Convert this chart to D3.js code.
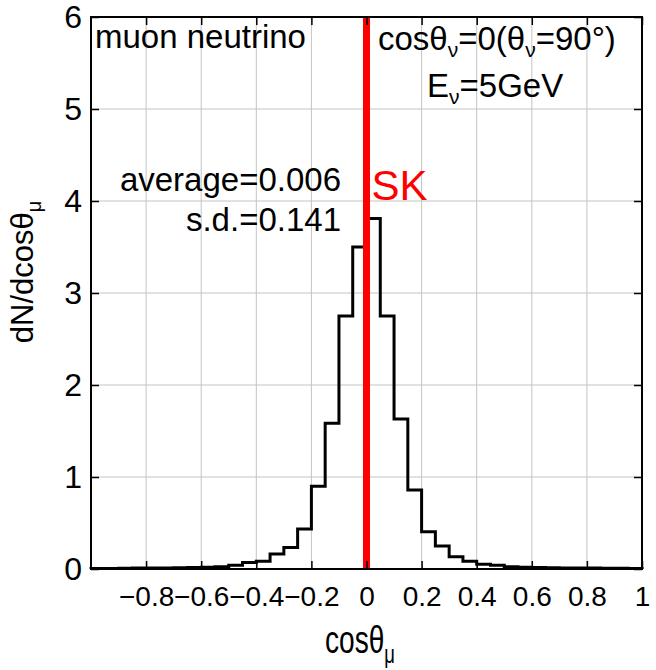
<!DOCTYPE html>
<html>
<head>
<meta charset="utf-8">
<script src="https://cdn.jsdelivr.net/npm/d3@7"></script>
<style>
  html, body { margin: 0; padding: 0; background: #fff; }
  svg { display: block; font-family: "Liberation Sans", Arial, Helvetica, sans-serif; }
</style>
</head>
<body>
<svg id="chart" width="656" height="670"></svg>
<script>
// ---- data ----
const binLo = [-1.00, -0.95, -0.90, -0.85, -0.80, -0.75, -0.70, -0.65, -0.60, -0.55,
               -0.50, -0.45, -0.40, -0.35, -0.30, -0.25, -0.20, -0.15, -0.10, -0.05,
                0.00,  0.05,  0.10,  0.15,  0.20,  0.25,  0.30,  0.35,  0.40,  0.45,
                0.50,  0.55,  0.60,  0.65,  0.70,  0.75,  0.80,  0.85,  0.90,  0.95];
const binWidth = 0.05;
const counts = [0.005, 0.006, 0.008, 0.010, 0.010, 0.012, 0.014, 0.016, 0.020, 0.025,
                0.040, 0.070, 0.085, 0.163, 0.235, 0.435, 0.900, 1.585, 2.750, 3.500,
                3.810, 2.750, 1.630, 0.860, 0.405, 0.250, 0.134, 0.085, 0.052, 0.040,
                0.025, 0.020, 0.017, 0.014, 0.012, 0.010, 0.010, 0.008, 0.007, 0.005];
const xTicks = [-0.8, -0.6, -0.4, -0.2, 0, 0.2, 0.4, 0.6, 0.8, 1];
const xTickLabels = ["\u22120.8", "\u22120.6", "\u22120.4", "\u22120.2", "0", "0.2", "0.4", "0.6", "0.8", "1"];
const yTicks = [0, 1, 2, 3, 4, 5, 6];
const yTickLabels = ["0", "1", "2", "3", "4", "5", "6"];
const markerX = 0;          // SK vertical line position
const markerLabel = "SK";
const infoLeft = "muon neutrino";
const statAverage = "average=0.006";
const statSd = "s.d.=0.141";

// ---- layout ----
const svg = d3.select("#chart");
const L = 91, R = 642, T = 17, B = 569;
const x = d3.scaleLinear().domain([-1, 1]).range([L, R]);
const y = d3.scaleLinear().domain([0, 6]).range([B, T]);

// grid
const grid = svg.append("g").attr("stroke", "#c4c4c4").attr("stroke-width", 1);
grid.selectAll(".gx").data(xTicks.filter(d => d > -1 && d < 1)).join("line")
  .attr("x1", d => x(d)).attr("x2", d => x(d)).attr("y1", T).attr("y2", B);
grid.selectAll(".gy").data(yTicks.filter(d => d > 0 && d < 6)).join("line")
  .attr("y1", d => y(d)).attr("y2", d => y(d)).attr("x1", L).attr("x2", R);

// histogram step line
const pts = [[x(binLo[0]), y(0)]];
binLo.forEach((lo, i) => {
  pts.push([x(lo), y(counts[i])]);
  pts.push([x(lo + binWidth), y(counts[i])]);
});
pts.push([x(binLo[binLo.length - 1] + binWidth), y(0)]);
svg.append("path")
  .attr("d", d3.line()(pts))
  .attr("fill", "none").attr("stroke", "#000").attr("stroke-width", 3)
  .attr("stroke-linejoin", "miter");

// red marker line
svg.append("line")
  .attr("x1", x(markerX)).attr("x2", x(markerX)).attr("y1", T).attr("y2", B)
  .attr("stroke", "#ff0000").attr("stroke-width", 7);

// axes
const fmtX = d => xTickLabels[xTicks.indexOf(d)];
const fmtY = d => yTickLabels[yTicks.indexOf(d)];
const gxB = svg.append("g").attr("transform", `translate(0,${B})`)
  .call(d3.axisBottom(x).tickValues(xTicks).tickFormat(fmtX).tickSize(-8).tickPadding(17));
const gxT = svg.append("g").attr("transform", `translate(0,${T})`)
  .call(d3.axisTop(x).tickValues(xTicks).tickFormat("").tickSize(-8));
const gyL = svg.append("g").attr("transform", `translate(${L},0)`)
  .call(d3.axisLeft(y).tickValues(yTicks).tickFormat(fmtY).tickSize(-8).tickPadding(9));
const gyR = svg.append("g").attr("transform", `translate(${R},0)`)
  .call(d3.axisRight(y).tickValues(yTicks).tickFormat("").tickSize(-8));
[gxB, gxT, gyL, gyR].forEach(g => {
  g.select(".domain").remove();
  g.selectAll(".tick line").attr("stroke", "#000").attr("stroke-width", 1.5);
});
gxB.selectAll(".tick text").attr("font-size", 28).attr("fill", "#000")
  .attr("font-family", "Liberation Sans, Arial, sans-serif");
gyL.selectAll(".tick text").attr("font-size", 32).attr("fill", "#000")
  .attr("font-family", "Liberation Sans, Arial, sans-serif");

// frame
svg.append("rect").attr("x", L).attr("y", T).attr("width", R - L).attr("height", B - T)
  .attr("fill", "none").attr("stroke", "#000").attr("stroke-width", 2);

// annotations
const ann = svg.append("g").attr("font-size", 33).attr("fill", "#000");
ann.append("text").attr("x", 95).attr("y", 48).text(infoLeft);
ann.append("text").attr("x", 341).attr("y", 191).attr("text-anchor", "end").text(statAverage);
ann.append("text").attr("x", 341).attr("y", 231).attr("text-anchor", "end").text(statSd);

const t1 = ann.append("text").attr("x", 378).attr("y", 50);
t1.append("tspan").text("cos\u03b8");
t1.append("tspan").attr("font-size", 21).attr("dy", 7).text("\u03bd");
t1.append("tspan").attr("dy", -7).text("=0(\u03b8");
t1.append("tspan").attr("font-size", 21).attr("dy", 7).text("\u03bd");
t1.append("tspan").attr("dy", -7).text("=90\u00b0)");

const t2 = ann.append("text").attr("x", 427).attr("y", 97);
t2.append("tspan").text("E");
t2.append("tspan").attr("font-size", 21).attr("dy", 7).text("\u03bd");
t2.append("tspan").attr("dy", -7).text("=5GeV");

svg.append("text").attr("x", x(markerX) + 5).attr("y", 200)
  .attr("font-size", 42).attr("fill", "#ff0000").text(markerLabel);

// axis titles
const xt = svg.append("text")
  .attr("transform", "translate(325,653) scale(0.74,1)")
  .attr("font-size", 38).attr("fill", "#000");
xt.append("tspan").text("cos\u03b8");
xt.append("tspan").attr("font-size", 25).attr("dy", 10).text("\u03bc");

const yt = svg.append("text")
  .attr("transform", "translate(33,272) rotate(-90)")
  .attr("text-anchor", "middle")
  .attr("font-size", 31).attr("fill", "#000");
yt.append("tspan").text("dN/dcos\u03b8");
yt.append("tspan").attr("font-size", 20).attr("dy", 8).text("\u03bc");
</script>
</body>
</html>
